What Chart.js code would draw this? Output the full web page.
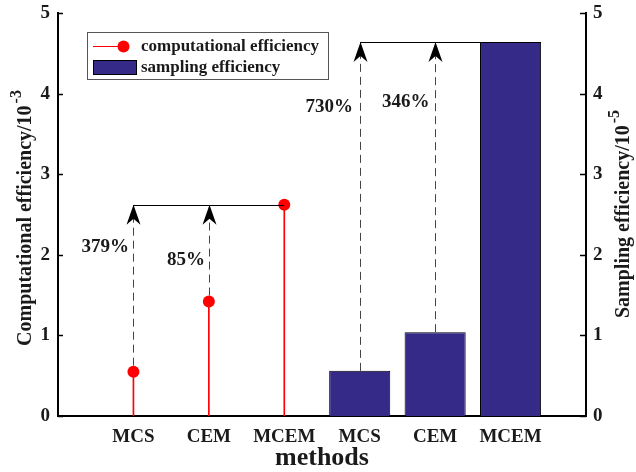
<!DOCTYPE html>
<html>
<head>
<meta charset="utf-8">
<script src="https://cdn.jsdelivr.net/npm/chart.js@4/dist/chart.umd.min.js"></script>
<style>
  html, body { margin: 0; padding: 0; background: #fff; }
  #wrap { width: 636px; height: 472px; position: relative; }
</style>
</head>
<body>
<div id="wrap"><canvas id="c"></canvas></div>
<script>
// Methods compared, first as computational efficiency (×10^-3), then as sampling efficiency (×10^-5)
const categories = ['MCS', 'CEM', 'MCEM', 'MCS', 'CEM', 'MCEM'];
const computationalEfficiency = [0.55, 1.42, 2.62];
const samplingEfficiency = [0.56, 1.04, 4.64];
const computationalGains = ['379%', '85%'];
const samplingGains = ['730%', '346%'];
const yTicks = [0, 1, 2, 3, 4, 5];

// Category slots: an empty slot at each end so the six methods sit on slots 1..6
const slots = ['', ...categories, ''];
const stemData = [null, ...computationalEfficiency, null, null, null, null];
const barData = [null, null, null, null, ...samplingEfficiency, null];

const SERIF = '"Liberation Serif", "Times New Roman", serif';
const TEXT = '#1a1a1a';
const BAR_BLUE = '#352a87';

function boldFont(px) { return 'bold ' + px + 'px ' + SERIF; }

function drawArrow(ctx, x, yFrom, yTo) {
  // dashed shaft
  ctx.save();
  ctx.strokeStyle = '#444';
  ctx.lineWidth = 1;
  ctx.setLineDash([8, 5]);
  ctx.beginPath();
  ctx.moveTo(x + 0.5, yFrom);
  ctx.lineTo(x + 0.5, yTo + 12);
  ctx.stroke();
  ctx.restore();
  // filled head with a notched base
  ctx.save();
  ctx.fillStyle = '#000';
  ctx.beginPath();
  ctx.moveTo(x + 0.5, yTo);
  ctx.lineTo(x + 0.5 - 7, yTo + 20);
  ctx.lineTo(x + 0.5, yTo + 14);
  ctx.lineTo(x + 0.5 + 7, yTo + 20);
  ctx.closePath();
  ctx.fill();
  ctx.restore();
}

function drawRotatedTitle(ctx, cx, cy, main, sup) {
  ctx.save();
  ctx.translate(cx, cy);
  ctx.rotate(-Math.PI / 2);
  ctx.fillStyle = TEXT;
  ctx.textBaseline = 'middle';
  ctx.textAlign = 'left';
  ctx.font = boldFont(20);
  const w = ctx.measureText(main).width;
  ctx.font = boldFont(16);
  const sw = ctx.measureText(sup).width;
  const start = -(w + sw + 2) / 2;
  ctx.font = boldFont(20);
  ctx.fillText(main, start, 0);
  ctx.font = boldFont(16);
  ctx.fillText(sup, start + w + 2, -9);
  ctx.restore();
}

const decorations = {
  id: 'decorations',
  afterDatasetsDraw(chart) {
    const ctx = chart.ctx;
    const x = chart.scales.x, y = chart.scales.y, y2 = chart.scales.y2;
    const area = chart.chartArea;

    // inward tick marks on both value axes
    ctx.save();
    ctx.strokeStyle = '#000';
    ctx.lineWidth = 1.5;
    yTicks.forEach(v => {
      const py = Math.round(y.getPixelForValue(v)) + 0.5;
      ctx.beginPath();
      ctx.moveTo(area.left, py);
      ctx.lineTo(area.left + 5, py);
      ctx.stroke();
      const py2 = Math.round(y2.getPixelForValue(v)) + 0.5;
      ctx.beginPath();
      ctx.moveTo(area.right, py2);
      ctx.lineTo(area.right - 6, py2);
      ctx.stroke();
    });
    ctx.restore();

    // computational efficiency: gains of MCEM over MCS and CEM
    const best = computationalEfficiency[2];
    const topY = y.getPixelForValue(best);
    const cx = [1, 2, 3].map(i => Math.round(x.getPixelForValue(i)));
    ctx.save();
    ctx.strokeStyle = '#000';
    ctx.lineWidth = 1;
    ctx.beginPath();
    ctx.moveTo(cx[0], Math.round(topY) + 0.5);
    ctx.lineTo(cx[2], Math.round(topY) + 0.5);
    ctx.stroke();
    ctx.restore();
    drawArrow(ctx, cx[0], y.getPixelForValue(computationalEfficiency[0]) - 6, topY);
    drawArrow(ctx, cx[1], y.getPixelForValue(computationalEfficiency[1]) - 6, topY);

    // sampling efficiency: gains of MCEM over MCS and CEM
    const bestS = samplingEfficiency[2];
    const topS = y2.getPixelForValue(bestS);
    const bx = [4, 5, 6].map(i => Math.round(x.getPixelForValue(i)));
    ctx.save();
    ctx.strokeStyle = '#000';
    ctx.lineWidth = 1;
    ctx.beginPath();
    ctx.moveTo(bx[0], Math.round(topS) + 0.5);
    ctx.lineTo(bx[2], Math.round(topS) + 0.5);
    ctx.stroke();
    ctx.restore();
    drawArrow(ctx, bx[0], y2.getPixelForValue(samplingEfficiency[0]), topS);
    drawArrow(ctx, bx[1], y2.getPixelForValue(samplingEfficiency[1]), topS);

    // gain labels
    ctx.save();
    ctx.fillStyle = TEXT;
    ctx.font = boldFont(19);
    ctx.textBaseline = 'middle';
    ctx.textAlign = 'right';
    ctx.fillText(computationalGains[0], cx[0] - 4, y.getPixelForValue(2.1));
    ctx.fillText(computationalGains[1], cx[1] - 4, y.getPixelForValue(1.93));
    ctx.fillText(samplingGains[0], bx[0] - 7, y2.getPixelForValue(3.83));
    ctx.textAlign = 'left';
    ctx.fillText(samplingGains[1], bx[0] + 22, y2.getPixelForValue(3.89));
    ctx.restore();

    // legend box
    ctx.save();
    ctx.fillStyle = '#fff';
    ctx.strokeStyle = '#555';
    ctx.lineWidth = 1;
    ctx.fillRect(87.5, 32.5, 241, 47);
    ctx.strokeRect(87.5, 32.5, 241, 47);
    ctx.strokeStyle = '#ff0000';
    ctx.beginPath();
    ctx.moveTo(93, 46.5);
    ctx.lineTo(123, 46.5);
    ctx.stroke();
    ctx.fillStyle = '#ff0000';
    ctx.beginPath();
    ctx.arc(123.5, 46.5, 6, 0, Math.PI * 2);
    ctx.fill();
    ctx.fillStyle = BAR_BLUE;
    ctx.fillRect(93, 60, 44, 15);
    ctx.strokeStyle = '#000';
    ctx.strokeRect(93.5, 60.5, 43, 14);
    ctx.fillStyle = TEXT;
    ctx.font = boldFont(17);
    ctx.textAlign = 'left';
    ctx.textBaseline = 'middle';
    ctx.fillText('computational efficiency', 141, 47);
    ctx.fillText('sampling efficiency', 141, 68);
    ctx.restore();

    // axis titles
    drawRotatedTitle(ctx, 26, 218, 'Computational efficiency/10', '-3');
    drawRotatedTitle(ctx, 624, 214, 'Sampling efficiency/10', '-5');
    ctx.save();
    ctx.fillStyle = TEXT;
    ctx.font = boldFont(26);
    ctx.textAlign = 'center';
    ctx.textBaseline = 'middle';
    ctx.fillText('methods', (area.left + area.right) / 2, 458);
    ctx.restore();
  }
};

const valueTicks = {
  font: { family: SERIF, size: 19, weight: 'bold' },
  color: TEXT,
  stepSize: 1,
};

function fixVertical(width) {
  return function (scale) {
    scale.width = width;
    scale.paddingTop = 0;
    scale.paddingBottom = 0;
  };
}

new Chart(document.getElementById('c'), {
  data: {
    labels: slots,
    datasets: [
      {
        type: 'line',
        label: 'computational efficiency',
        data: stemData,
        yAxisID: 'y',
        showLine: false,
        pointRadius: 6,
        pointHoverRadius: 6,
        pointBackgroundColor: '#ff0000',
        pointBorderColor: '#ff0000',
        pointBorderWidth: 0,
        order: 0
      },
      {
        type: 'bar',
        label: 'computational efficiency stems',
        data: stemData,
        yAxisID: 'y',
        backgroundColor: '#ff0000',
        barThickness: 1,
        grouped: false,
        order: 1
      },
      {
        type: 'bar',
        label: 'sampling efficiency',
        data: barData,
        yAxisID: 'y2',
        backgroundColor: BAR_BLUE,
        borderColor: '#000',
        borderWidth: 1,
        barPercentage: 0.81,
        categoryPercentage: 1,
        grouped: false,
        order: 2
      }
    ]
  },
  options: {
    responsive: true,
    maintainAspectRatio: false,
    animation: false,
    layout: { padding: { top: 13, left: 0, right: 0, bottom: 0 } },
    plugins: { legend: { display: false }, tooltip: { enabled: false } },
    scales: {
      x: {
        type: 'category',
        offset: false,
        grid: { display: false, drawTicks: false },
        border: { display: true, color: '#000', width: 2 },
        ticks: {
          font: { family: SERIF, size: 19, weight: 'bold' },
          color: TEXT,
          autoSkip: false,
          maxRotation: 0,
          padding: 10
        },
        afterFit(scale) { scale.height = 56; }
      },
      y: {
        position: 'left',
        min: 0, max: 5,
        grid: { display: false, drawTicks: false },
        border: { display: true, color: '#000', width: 2 },
        ticks: Object.assign({ padding: 8 }, valueTicks),
        afterFit: fixVertical(58)
      },
      y2: {
        position: 'right',
        min: 0, max: 5,
        grid: { display: false, drawTicks: false },
        border: { display: true, color: '#000', width: 2 },
        ticks: Object.assign({ padding: 7 }, valueTicks),
        afterFit: fixVertical(50)
      }
    }
  },
  plugins: [decorations]
});
</script>
</body>
</html>
